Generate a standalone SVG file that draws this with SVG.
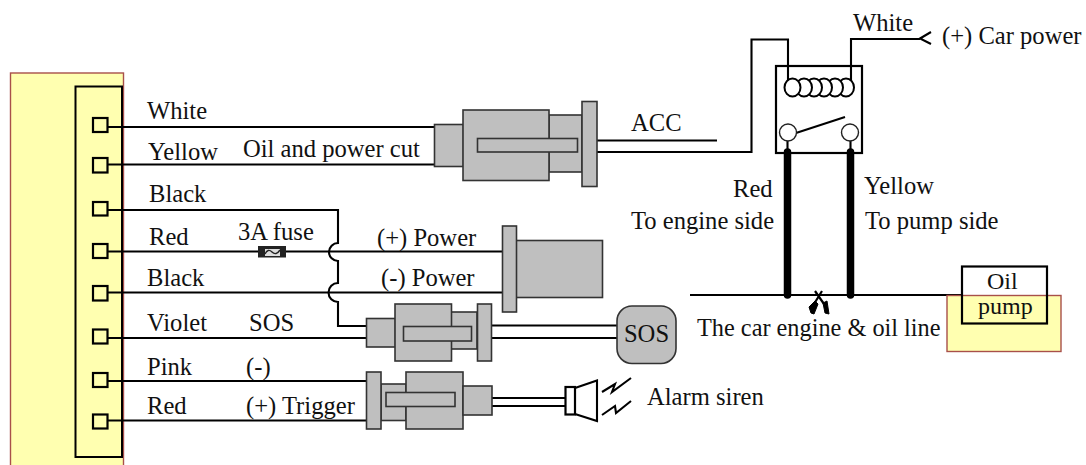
<svg xmlns="http://www.w3.org/2000/svg" width="1086" height="465" viewBox="0 0 1086 465">
<style>
text{font-family:"Liberation Serif","Times New Roman",serif;font-size:24.6px;fill:#111}
.w{fill:none;stroke:#000;stroke-width:2.100}
.g{fill:#bfbfbf;stroke:#333;stroke-width:1.6}
.y{fill:#ffffb0;stroke:#a8504a;stroke-width:1.4}
.p{fill:#ffffb0;stroke:#000;stroke-width:2.200}
.c{fill:#fff;stroke:#222;stroke-width:1.4}
.t{fill:none;stroke:#000;stroke-width:7.5;stroke-linecap:round}
</style>
<g id="device">
<rect class="y" x="10.500" y="73" width="113" height="400"/>
<rect x="75.500" y="86.500" width="46.500" height="370.500" fill="none" stroke="#000" stroke-width="2"/>
<rect class="p" x="93" y="118" width="14.500" height="14"/>
<rect class="p" x="93" y="158" width="14.500" height="14.500"/>
<rect class="p" x="93" y="202" width="14.500" height="13.500"/>
<rect class="p" x="93" y="244" width="14.500" height="14"/>
<rect class="p" x="93" y="286" width="14.500" height="14.500"/>
<rect class="p" x="93" y="329.500" width="14.500" height="14"/>
<rect class="p" x="93" y="373" width="14.500" height="14"/>
<rect class="p" x="93" y="414.500" width="14.500" height="14"/>
</g>
<g id="connectors">
<path class="w" d="M107 127H434M107 164.500H434"/>
<path class="w" d="M107 210H338V243A9 9 0 0 0 338 261V283A9.500 9.500 0 0 0 338 302V326H367"/>
<path class="w" d="M107 251.500H502M107 292.500H502"/>
<path class="w" d="M107 338H367"/>
<path class="w" d="M107 381H367M107 420.500H367"/>
<path class="w" d="M597 140.500H717"/>
<path class="w" d="M597 152H751.500V39.500H788V81"/>
<path class="w" d="M851 81V39H920M931 32L920 38.500L931 44"/>
<path class="w" d="M492 325.500H617M492 338H617"/>
<path class="w" d="M492 398H565M492 406H565"/>
<path class="w" d="M690 295H962"/>
<path class="t" d="M787.500 152V295"/>
<path class="t" d="M850.500 152V295"/>
</g>
<g id="yellow-tank"><rect class="y" x="947" y="295.500" width="114" height="56"/></g>
<g id="fuse">
<rect x="258" y="246" width="28" height="11.500" fill="#222"/>
<rect x="265" y="249" width="15" height="7" fill="#ddd"/>
<path d="M265 254Q268 248 272 252T280 250" fill="none" stroke="#222" stroke-width="1.400"/>
</g>
<g id="connector-acc">
<rect class="g" x="434.500" y="124.500" width="29" height="42"/>
<rect class="g" x="549" y="115" width="33" height="57"/>
<rect class="g" x="463" y="110" width="86" height="70.500"/>
<rect class="g" x="582" y="101.500" width="15" height="85"/>
<rect class="g" x="477.500" y="138.500" width="100" height="13.500"/>
</g>
<g id="connector-power">
<rect class="g" x="516" y="240.500" width="86.500" height="57"/>
<rect class="g" x="502.500" y="226" width="14" height="86"/>
</g>
<g id="connector-sos">
<rect class="g" x="366.500" y="318.500" width="29" height="28.500"/>
<rect class="g" x="451" y="312" width="26" height="37"/>
<rect class="g" x="395" y="304" width="56.500" height="57"/>
<rect class="g" x="477.500" y="304" width="14" height="57"/>
<rect class="g" x="403.500" y="326.500" width="68" height="14.500"/>
</g>
<g id="sos"><rect class="g" x="617" y="306" width="59" height="57.500" rx="15" ry="15"/><text x="646.500" y="342" text-anchor="middle">SOS</text></g>
<g id="connector-trigger">
<rect class="g" x="381" y="384" width="25" height="36.500"/>
<rect class="g" x="406" y="372" width="57" height="57"/>
<rect class="g" x="463" y="386" width="29" height="29"/>
<rect class="g" x="366.500" y="372" width="14.500" height="57"/>
<rect class="g" x="386" y="392.500" width="69" height="14"/>
</g>
<g id="siren">
<rect x="565.500" y="387" width="9.500" height="27.500" fill="#fff" stroke="#000" stroke-width="2.200"/>
<path d="M575 388L597 380.500V421L575 414" class="w"/>
<path d="M602 392L615 384L612 392L631 378" class="w"/>
<path d="M602 415L615 406L616 413L631 401" class="w"/>
</g>
<g id="relay">
<rect x="776" y="66" width="86" height="87" fill="none" stroke="#000" stroke-width="2.200"/>
<g fill="#fff" stroke="#000" stroke-width="2">
<ellipse cx="846" cy="87.500" rx="8" ry="9"/><ellipse cx="835" cy="87.500" rx="8" ry="9"/><ellipse cx="824" cy="87.500" rx="8" ry="9"/><ellipse cx="814" cy="87.500" rx="8" ry="9"/><ellipse cx="804" cy="87.500" rx="8" ry="9"/><ellipse cx="792.500" cy="87.500" rx="8" ry="9"/>
</g>
<path d="M796 133L845 117" class="w"/>
<path d="M787.500 140V152M850.500 140V152" class="w"/>
<circle class="c" cx="788" cy="132.500" r="8.500"/>
<circle class="c" cx="850" cy="132.500" r="8.500"/>
</g>
<g id="cut">
<path d="M815 291L824 304M822 291L814 304" fill="none" stroke="#000" stroke-width="2.200"/>
<path d="M809 307L815 301L818 304L814 314L811 313ZM823 303L827 301L829 314L825 313Z" fill="#000" stroke="#000"/>
</g>
<g id="oil-pump"><rect x="962" y="266.500" width="85" height="57" fill="none" stroke="#000" stroke-width="2.200"/></g>
<g id="labels">
<text x="147" y="119">White</text>
<text x="148" y="160">Yellow</text>
<text x="243" y="157">Oil and power cut</text>
<text x="149" y="202">Black</text>
<text x="149" y="245">Red</text>
<text x="238" y="240">3A fuse</text>
<text x="377" y="246">(+) Power</text>
<text x="381" y="286">(-) Power</text>
<text x="147" y="286">Black</text>
<text x="147" y="331">Violet</text>
<text x="249" y="331">SOS</text>
<text x="147" y="375">Pink</text>
<text x="246" y="375">(-)</text>
<text x="147" y="414">Red</text>
<text x="246" y="414">(+) Trigger</text>
<text x="631" y="131">ACC</text>
<text x="647" y="405">Alarm siren</text>
<text x="853" y="31">White</text>
<text x="942" y="44">(+) Car power</text>
<text x="733" y="197">Red</text>
<text x="631" y="229">To engine side</text>
<text x="864" y="194">Yellow</text>
<text x="865" y="229">To pump side</text>
<text x="697" y="336" style="font-size:24.300px">The car engine &amp; oil line</text>
<text x="987" y="288.500" style="font-size:24px">Oil</text>
<text x="978" y="314" style="font-size:24px">pump</text>
</g>
</svg>
